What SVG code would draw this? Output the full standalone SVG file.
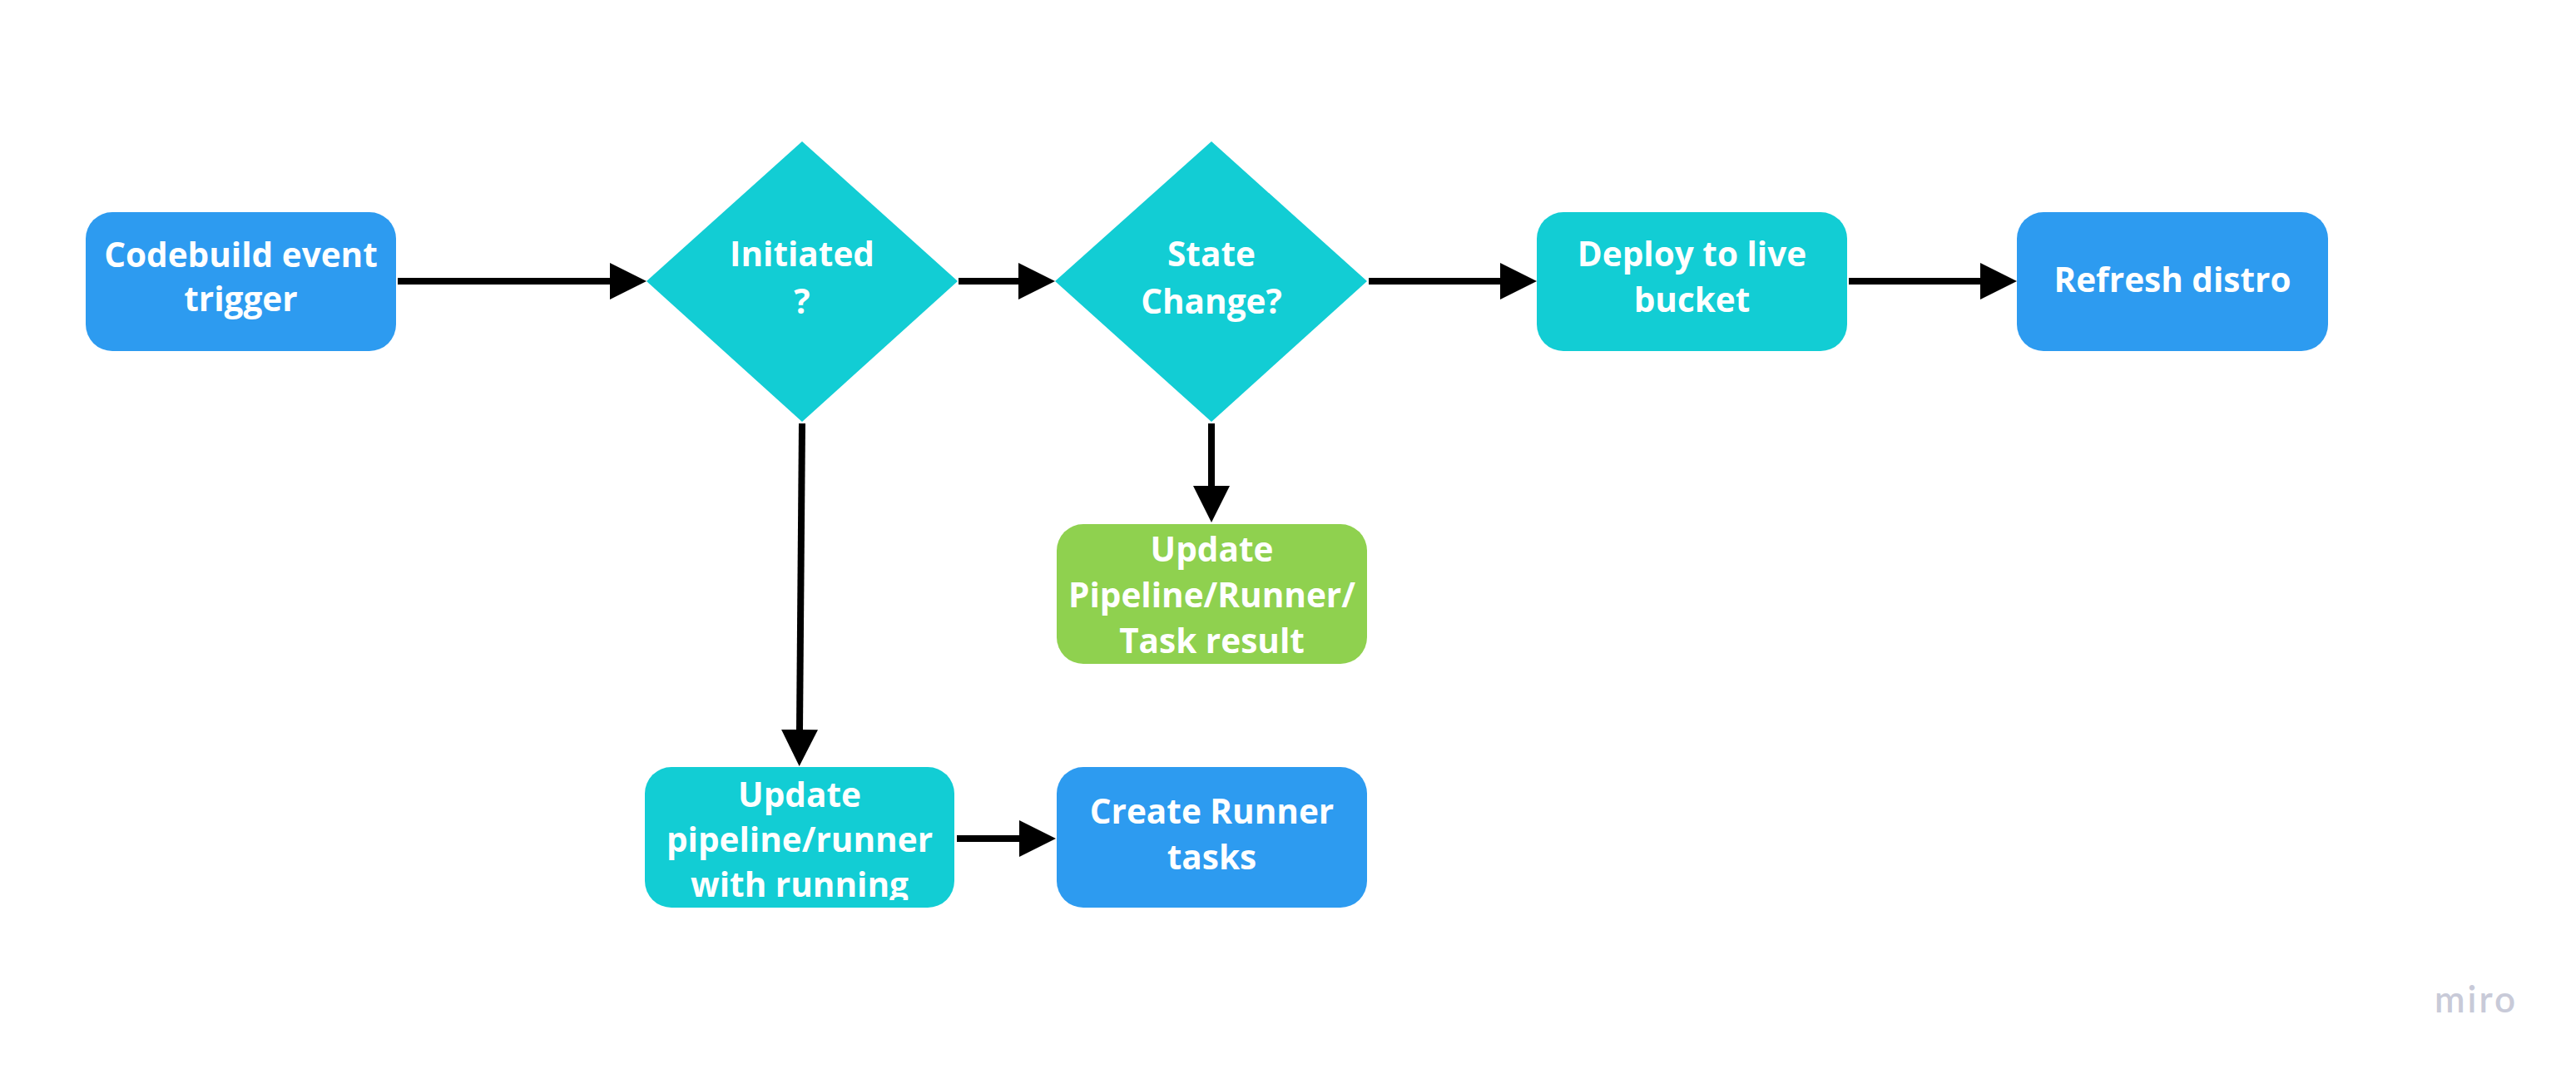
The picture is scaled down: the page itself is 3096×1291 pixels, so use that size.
<svg xmlns="http://www.w3.org/2000/svg" width="3096" height="1291" viewBox="0 0 3096 1291">
<style>
.lbl{font-family:"Open Sans","Liberation Sans",sans-serif;font-weight:700;font-size:40.5px;fill:#ffffff;text-anchor:middle}
.blue{fill:#2d9bf0}
.cyan{fill:#12cdd4}
.green{fill:#8fd14f}
.conn{stroke:#000000;stroke-width:8;fill:none;marker-end:url(#ah)}
.logo{font-family:"Lato","Noto Sans",sans-serif;font-weight:600;font-size:44px;fill:#c8cad8;letter-spacing:3px}
</style>
<defs>
<marker id="ah" viewBox="0 0 44 44" markerUnits="userSpaceOnUse" markerWidth="44" markerHeight="44" refX="1" refY="22" orient="auto">
<path d="M0,0 L44,22 L0,44 Z" fill="#000000"/>
</marker>
<clipPath id="clipUpd"><rect x="775" y="922" width="372" height="160"/></clipPath>
</defs>
<rect width="3096" height="1291" fill="#ffffff"/>
<g id="connectors">
<path class="conn" d="M478 338 H734"/>
<path class="conn" d="M1152 338 H1225"/>
<path class="conn" d="M1645 338 H1804"/>
<path class="conn" d="M2222 338 H2381"/>
<path class="conn" d="M964 509 L961 878"/>
<path class="conn" d="M1456 509 V585"/>
<path class="conn" d="M1150 1008 H1226"/>
</g>
<g id="codebuild">
<rect class="blue" x="103" y="255" width="373" height="167" rx="32"/>
<text class="lbl" x="289.5" y="321">Codebuild event</text>
<text class="lbl" x="289.5" y="374">trigger</text>
</g>
<g id="initiated">
<polygon class="cyan" points="777,338 964,170 1151,338 964,507"/>
<text class="lbl" x="964" y="320">Initiated</text>
<text class="lbl" x="964" y="377">?</text>
</g>
<g id="statechange">
<polygon class="cyan" points="1268,338 1456,170 1643,338 1456,507"/>
<text class="lbl" x="1456" y="320">State</text>
<text class="lbl" x="1456" y="377">Change?</text>
</g>
<g id="deploy">
<rect class="cyan" x="1847" y="255" width="373" height="167" rx="32"/>
<text class="lbl" x="2033.5" y="320">Deploy to live</text>
<text class="lbl" x="2033.5" y="375">bucket</text>
</g>
<g id="refresh">
<rect class="blue" x="2424" y="255" width="374" height="167" rx="32"/>
<text class="lbl" x="2611" y="351">Refresh distro</text>
</g>
<g id="updateresult">
<rect class="green" x="1270" y="630" width="373" height="168" rx="32"/>
<text class="lbl" x="1456.5" y="675">Update</text>
<text class="lbl" x="1456.5" y="730">Pipeline/Runner/</text>
<text class="lbl" x="1456.5" y="785">Task result</text>
</g>
<g id="updaterunning">
<rect class="cyan" x="775" y="922" width="372" height="169" rx="32"/>
<g clip-path="url(#clipUpd)">
<text class="lbl" x="961" y="970">Update</text>
<text class="lbl" x="961" y="1024">pipeline/runner</text>
<text class="lbl" x="961" y="1078">with running</text>
</g>
</g>
<g id="createtasks">
<rect class="blue" x="1270" y="922" width="373" height="169" rx="32"/>
<text class="lbl" x="1456.5" y="990">Create Runner</text>
<text class="lbl" x="1456.5" y="1045">tasks</text>
</g>
<text class="logo" x="2926" y="1217">miro</text>
</svg>
